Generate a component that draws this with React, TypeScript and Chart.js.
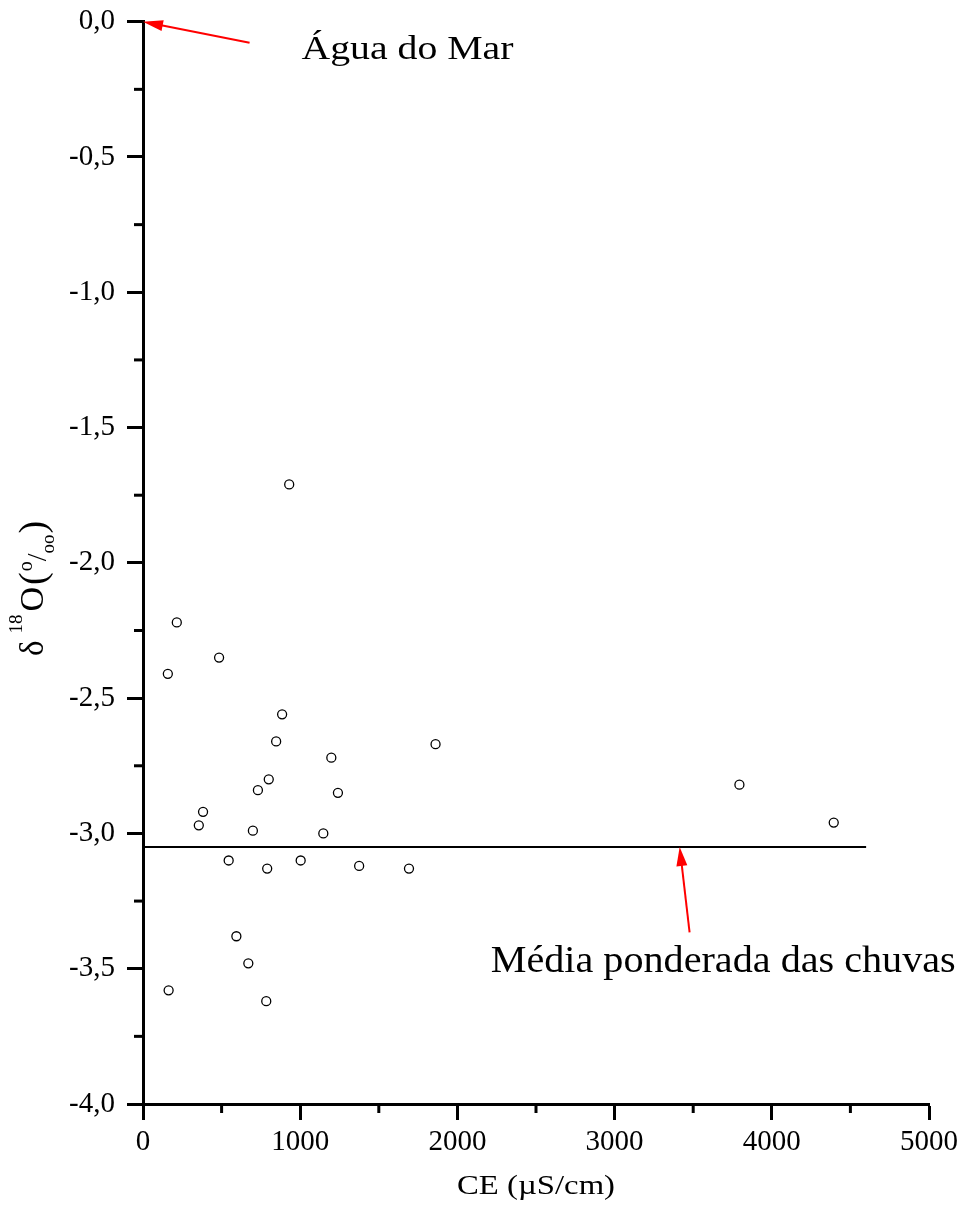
import { useEffect, useRef } from "react";
import { Chart, registerables } from "chart.js";

Chart.register(...registerables);

// ---- data ----
const ceValues = [930, 215, 484, 158, 885, 847, 1861, 1198, 800, 731, 1240, 382, 355, 699, 1147, 545, 790, 1003, 1375, 1692, 594, 670, 163, 784, 3794, 4394];
const d18OValues = [-1.71, -2.22, -2.35, -2.41, -2.56, -2.66, -2.67, -2.72, -2.8, -2.84, -2.85, -2.92, -2.97, -2.99, -3.0, -3.1, -3.13, -3.1, -3.12, -3.13, -3.38, -3.48, -3.58, -3.62, -2.82, -2.96];

const meanLineX = [0, 4600];
const meanLineY = [-3.05, -3.05];

const xTickValues = [0, 1000, 2000, 3000, 4000, 5000];
const xTickLabels = ["0", "1000", "2000", "3000", "4000", "5000"];
const yTickValues = [0, -0.5, -1, -1.5, -2, -2.5, -3, -3.5, -4];
const yTickLabels = ["0,0", "-0,5", "-1,0", "-1,5", "-2,0", "-2,5", "-3,0", "-3,5", "-4,0"];

// annotation anchors (data coordinates)
const seaTip = { x: 0, y: 0 };
const seaTail = { x: 678, y: -0.078 };
const seaLabelPos = { x: 1008, y: -0.138 };
const seaLabel = "Água do Mar";

const rainTip = { x: 3414, y: -3.05 };
const rainTail = { x: 3477, y: -3.366 };
const rainLabelPos = { x: 2212, y: -3.512 };
const rainLabel = "Média ponderada das chuvas";

const xTitle = "CE (µS/cm)";

const SERIF = "'Liberation Serif', 'Times New Roman', serif";

function findLabel(values: number[], labels: string[], v: number): string {
  for (let i = 0; i < values.length; i++) {
    if (Math.abs(values[i] - v) < 1e-9) return labels[i];
  }
  return "";
}

function isMajor(values: number[], v: number): boolean {
  return values.some((t) => Math.abs(t - v) < 1e-9);
}

function drawArrow(ctx: CanvasRenderingContext2D, x1: number, y1: number, x2: number, y2: number, headLen: number, headW: number) {
  const ang = Math.atan2(y2 - y1, x2 - x1);
  const c = Math.cos(ang);
  const s = Math.sin(ang);
  ctx.beginPath();
  ctx.moveTo(x1, y1);
  ctx.lineTo(x2 - headLen * 0.8 * c, y2 - headLen * 0.8 * s);
  ctx.stroke();
  ctx.beginPath();
  ctx.moveTo(x2, y2);
  ctx.lineTo(x2 - headLen * c + headW * s, y2 - headLen * s - headW * c);
  ctx.lineTo(x2 - headLen * c - headW * s, y2 - headLen * s + headW * c);
  ctx.closePath();
  ctx.fill();
}

function drawStretched(ctx: CanvasRenderingContext2D, text: string, x: number, y: number, size: number, targetW: number, align: "left" | "center") {
  ctx.save();
  ctx.font = `${size}px ${SERIF}`;
  const w = ctx.measureText(text).width;
  const sx = targetW / w;
  ctx.translate(x, y);
  ctx.scale(sx, 1);
  ctx.textBaseline = "alphabetic";
  ctx.textAlign = "left";
  ctx.fillText(text, align === "center" ? -w / 2 : 0, 0);
  ctx.restore();
}

const overlayPlugin = {
  id: "overlay",
  afterDraw(chart: any) {
    const { ctx, chartArea } = chart;
    const xs = chart.scales.x;
    const ys = chart.scales.y;
    ctx.save();

    // minor ticks
    ctx.strokeStyle = "#000";
    ctx.lineWidth = 3;
    ctx.lineCap = "butt";
    xs.ticks.forEach((t: any) => {
      if (!isMajor(xTickValues, t.value)) {
        const px = xs.getPixelForValue(t.value);
        ctx.beginPath();
        ctx.moveTo(px, chartArea.bottom);
        ctx.lineTo(px, chartArea.bottom + 9);
        ctx.stroke();
      }
    });
    ys.ticks.forEach((t: any) => {
      if (!isMajor(yTickValues, t.value)) {
        const py = ys.getPixelForValue(t.value);
        ctx.beginPath();
        ctx.moveTo(chartArea.left - 9, py);
        ctx.lineTo(chartArea.left, py);
        ctx.stroke();
      }
    });

    // arrows
    ctx.strokeStyle = "#ff0000";
    ctx.fillStyle = "#ff0000";
    ctx.lineWidth = 2;
    drawArrow(ctx, xs.getPixelForValue(seaTail.x), ys.getPixelForValue(seaTail.y), xs.getPixelForValue(seaTip.x), ys.getPixelForValue(seaTip.y), 20, 5.5);
    drawArrow(ctx, xs.getPixelForValue(rainTail.x), ys.getPixelForValue(rainTail.y), xs.getPixelForValue(rainTip.x), ys.getPixelForValue(rainTip.y), 19, 5.5);

    // annotation texts
    ctx.fillStyle = "#000";
    drawStretched(ctx, seaLabel, xs.getPixelForValue(seaLabelPos.x), ys.getPixelForValue(seaLabelPos.y), 33, 212, "left");
    drawStretched(ctx, rainLabel, xs.getPixelForValue(rainLabelPos.x), ys.getPixelForValue(rainLabelPos.y), 38, 465, "left");

    // x title
    drawStretched(ctx, xTitle, (chartArea.left + chartArea.right) / 2, 1194, 28, 158, "center");

    // y title: δ 18O (o/oo), rotated
    ctx.save();
    ctx.translate(43, 656);
    ctx.rotate(-Math.PI / 2);
    ctx.textBaseline = "alphabetic";
    ctx.textAlign = "left";
    let cx = 0;
    const seg = (text: string, size: number, dy: number, gapAfter = 0) => {
      ctx.font = `${size}px ${SERIF}`;
      ctx.fillText(text, cx, dy);
      cx += ctx.measureText(text).width + gapAfter;
    };
    seg("δ", 33, 0, 7);
    seg("18", 19, -21, 3);
    seg("O", 34, 0, 2);
    seg("(", 38, 2, 1);
    seg("o", 20, -11, 0);
    seg("/", 28, 3, 0);
    seg("oo", 19, 11, 1);
    seg(")", 38, 2, 0);
    ctx.restore();

    ctx.restore();
  },
};

export default function App() {
  const canvasRef = useRef<HTMLCanvasElement | null>(null);

  useEffect(() => {
    document.body.style.margin = "0";
    const canvas = canvasRef.current;
    if (!canvas) return;

    const points = ceValues.map((x, i) => ({ x, y: d18OValues[i] }));
    const meanLine = meanLineX.map((x, i) => ({ x, y: meanLineY[i] }));

    const chart = new Chart(canvas, {
      type: "scatter",
      data: {
        datasets: [
          {
            data: points,
            pointRadius: 4.5,
            pointBorderWidth: 1.3,
            pointBackgroundColor: "#ffffff",
            pointBorderColor: "#000000",
            showLine: false,
          } as any,
          {
            data: meanLine,
            showLine: true,
            borderColor: "#000000",
            borderWidth: 2,
            pointRadius: 0,
          } as any,
        ],
      },
      options: {
        responsive: false,
        animation: false,
        layout: { padding: { left: 0, right: 31, top: 21.7, bottom: 0 } },
        plugins: {
          legend: { display: false },
          tooltip: { enabled: false },
        },
        scales: {
          x: {
            type: "linear",
            min: 0,
            max: 5000,
            afterFit: (scale: any) => {
              scale.height = 105;
            },
            ticks: {
              stepSize: 500,
              autoSkip: false,
              maxRotation: 0,
              padding: 5,
              color: "#000",
              font: { family: SERIF, size: 29 },
              callback: (v: any) => findLabel(xTickValues, xTickLabels, Number(v)),
            },
            grid: {
              drawOnChartArea: false,
              drawTicks: true,
              tickLength: 16,
              tickWidth: 3,
              tickColor: (c: any) => (isMajor(xTickValues, c.tick ? c.tick.value : NaN) ? "#000" : "rgba(0,0,0,0)"),
            },
            border: { display: true, color: "#000", width: 3 },
          },
          y: {
            type: "linear",
            min: -4,
            max: 0,
            afterFit: (scale: any) => {
              scale.width = 143;
            },
            ticks: {
              stepSize: 0.25,
              autoSkip: false,
              padding: 12,
              color: "#000",
              font: { family: SERIF, size: 29, lineHeight: 0.5 },
              callback: (v: any) => findLabel(yTickValues, yTickLabels, Number(v)),
            },
            grid: {
              drawOnChartArea: false,
              drawTicks: true,
              tickLength: 16,
              tickWidth: 3,
              tickColor: (c: any) => (isMajor(yTickValues, c.tick ? c.tick.value : NaN) ? "#000" : "rgba(0,0,0,0)"),
            },
            border: { display: true, color: "#000", width: 3 },
          },
        },
      },
      plugins: [overlayPlugin],
    });

    return () => {
      chart.destroy();
    };
  }, []);

  return (
    <div style={{ width: 963, height: 1209, background: "#fff" }}>
      <canvas ref={canvasRef} width={963} height={1209} style={{ display: "block" }} />
    </div>
  );
}
